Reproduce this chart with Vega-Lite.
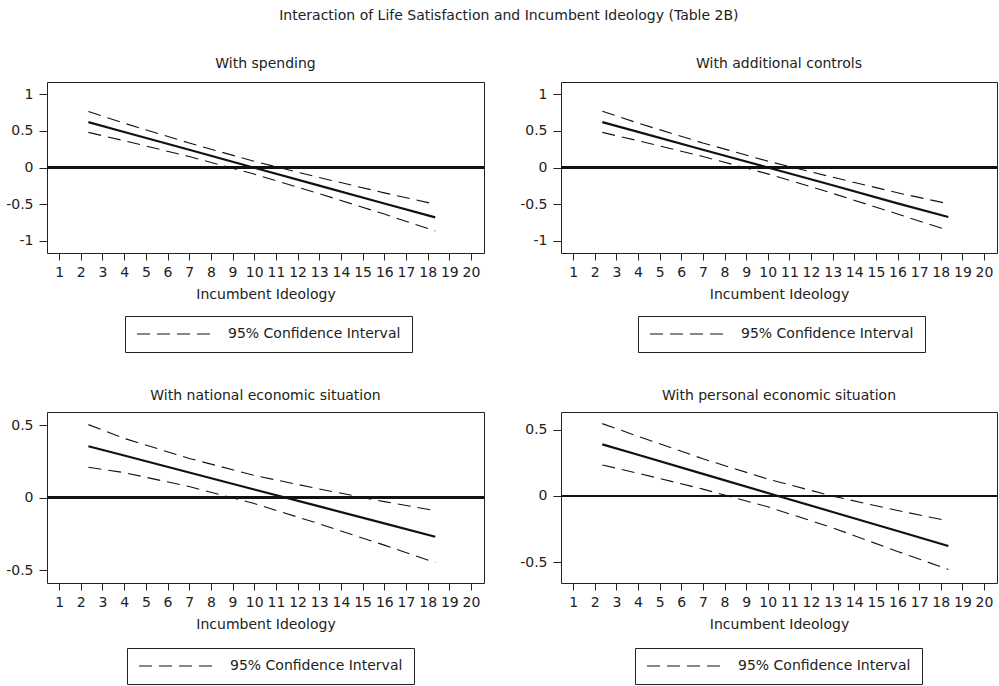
{
  "$schema": "https://vega.github.io/schema/vega-lite/v6.json",
  "padding": {"left": 5, "top": 8, "right": 0, "bottom": 0},
  "background": "white",
  "title": {"text": "Interaction of Life Satisfaction and Incumbent Ideology (Table 2B)", "anchor": "middle", "offset": 34, "dx": 7},
  "datasets": {
    "ci": [
      {"panel": "p1", "series": "mean", "x": 2.35, "y": 0.62},
      {"panel": "p1", "series": "mean", "x": 4, "y": 0.486},
      {"panel": "p1", "series": "mean", "x": 7, "y": 0.243},
      {"panel": "p1", "series": "mean", "x": 10, "y": -0.002},
      {"panel": "p1", "series": "mean", "x": 13, "y": -0.246},
      {"panel": "p1", "series": "mean", "x": 16, "y": -0.49},
      {"panel": "p1", "series": "mean", "x": 18.35, "y": -0.68},
      {"panel": "p1", "series": "upper", "x": 2.35, "y": 0.765},
      {"panel": "p1", "series": "upper", "x": 4, "y": 0.606},
      {"panel": "p1", "series": "upper", "x": 7, "y": 0.335},
      {"panel": "p1", "series": "upper", "x": 10, "y": 0.085},
      {"panel": "p1", "series": "upper", "x": 13, "y": -0.136},
      {"panel": "p1", "series": "upper", "x": 16, "y": -0.345},
      {"panel": "p1", "series": "upper", "x": 18.35, "y": -0.5},
      {"panel": "p1", "series": "lower", "x": 2.35, "y": 0.48},
      {"panel": "p1", "series": "lower", "x": 4, "y": 0.366},
      {"panel": "p1", "series": "lower", "x": 7, "y": 0.151},
      {"panel": "p1", "series": "lower", "x": 10, "y": -0.089},
      {"panel": "p1", "series": "lower", "x": 13, "y": -0.356},
      {"panel": "p1", "series": "lower", "x": 16, "y": -0.635},
      {"panel": "p1", "series": "lower", "x": 18.35, "y": -0.865},

      {"panel": "p2", "series": "mean", "x": 2.35, "y": 0.62},
      {"panel": "p2", "series": "mean", "x": 4, "y": 0.487},
      {"panel": "p2", "series": "mean", "x": 7, "y": 0.244},
      {"panel": "p2", "series": "mean", "x": 10, "y": 0.001},
      {"panel": "p2", "series": "mean", "x": 13, "y": -0.242},
      {"panel": "p2", "series": "mean", "x": 16, "y": -0.489},
      {"panel": "p2", "series": "mean", "x": 18.35, "y": -0.674},
      {"panel": "p2", "series": "upper", "x": 2.35, "y": 0.77},
      {"panel": "p2", "series": "upper", "x": 4, "y": 0.607},
      {"panel": "p2", "series": "upper", "x": 7, "y": 0.336},
      {"panel": "p2", "series": "upper", "x": 10, "y": 0.088},
      {"panel": "p2", "series": "upper", "x": 13, "y": -0.132},
      {"panel": "p2", "series": "upper", "x": 16, "y": -0.344},
      {"panel": "p2", "series": "upper", "x": 18.35, "y": -0.494},
      {"panel": "p2", "series": "lower", "x": 2.35, "y": 0.48},
      {"panel": "p2", "series": "lower", "x": 4, "y": 0.367},
      {"panel": "p2", "series": "lower", "x": 7, "y": 0.152},
      {"panel": "p2", "series": "lower", "x": 10, "y": -0.086},
      {"panel": "p2", "series": "lower", "x": 13, "y": -0.352},
      {"panel": "p2", "series": "lower", "x": 16, "y": -0.634},
      {"panel": "p2", "series": "lower", "x": 18.35, "y": -0.857},

      {"panel": "p3", "series": "mean", "x": 2.35, "y": 0.356},
      {"panel": "p3", "series": "mean", "x": 4, "y": 0.292},
      {"panel": "p3", "series": "mean", "x": 7, "y": 0.175},
      {"panel": "p3", "series": "mean", "x": 10, "y": 0.058},
      {"panel": "p3", "series": "mean", "x": 13, "y": -0.059},
      {"panel": "p3", "series": "mean", "x": 16, "y": -0.176},
      {"panel": "p3", "series": "mean", "x": 18.35, "y": -0.268},
      {"panel": "p3", "series": "upper", "x": 2.35, "y": 0.505},
      {"panel": "p3", "series": "upper", "x": 4, "y": 0.41},
      {"panel": "p3", "series": "upper", "x": 7, "y": 0.272},
      {"panel": "p3", "series": "upper", "x": 10, "y": 0.155},
      {"panel": "p3", "series": "upper", "x": 13, "y": 0.061},
      {"panel": "p3", "series": "upper", "x": 16, "y": -0.026},
      {"panel": "p3", "series": "upper", "x": 18.35, "y": -0.088},
      {"panel": "p3", "series": "lower", "x": 2.35, "y": 0.211},
      {"panel": "p3", "series": "lower", "x": 4, "y": 0.174},
      {"panel": "p3", "series": "lower", "x": 7, "y": 0.078},
      {"panel": "p3", "series": "lower", "x": 10, "y": -0.039},
      {"panel": "p3", "series": "lower", "x": 13, "y": -0.179},
      {"panel": "p3", "series": "lower", "x": 16, "y": -0.326},
      {"panel": "p3", "series": "lower", "x": 18.35, "y": -0.447},

      {"panel": "p4", "series": "mean", "x": 2.35, "y": 0.391},
      {"panel": "p4", "series": "mean", "x": 4, "y": 0.312},
      {"panel": "p4", "series": "mean", "x": 7, "y": 0.167},
      {"panel": "p4", "series": "mean", "x": 10, "y": 0.023},
      {"panel": "p4", "series": "mean", "x": 13, "y": -0.121},
      {"panel": "p4", "series": "mean", "x": 16, "y": -0.265},
      {"panel": "p4", "series": "mean", "x": 18.35, "y": -0.379},
      {"panel": "p4", "series": "upper", "x": 2.35, "y": 0.548},
      {"panel": "p4", "series": "upper", "x": 4, "y": 0.452},
      {"panel": "p4", "series": "upper", "x": 7, "y": 0.282},
      {"panel": "p4", "series": "upper", "x": 10, "y": 0.128},
      {"panel": "p4", "series": "upper", "x": 13, "y": -0.001},
      {"panel": "p4", "series": "upper", "x": 16, "y": -0.11},
      {"panel": "p4", "series": "upper", "x": 18.35, "y": -0.189},
      {"panel": "p4", "series": "lower", "x": 2.35, "y": 0.235},
      {"panel": "p4", "series": "lower", "x": 4, "y": 0.172},
      {"panel": "p4", "series": "lower", "x": 7, "y": 0.052},
      {"panel": "p4", "series": "lower", "x": 10, "y": -0.082},
      {"panel": "p4", "series": "lower", "x": 13, "y": -0.241},
      {"panel": "p4", "series": "lower", "x": 16, "y": -0.42},
      {"panel": "p4", "series": "lower", "x": 18.35, "y": -0.556}
    ]
  },
  "columns": 2,
  "spacing": {"row": 35, "column": 33},
  "resolve": {"scale": {"strokeDash": "independent", "x": "independent", "y": "independent"}, "legend": {"strokeDash": "independent"}},
  "concat": [
    {
      "title": {"text": "With spending", "offset": 11},
      "width": 437, "height": 171,
      "data": {"name": "ci"},
      "transform": [{"filter": "datum.panel == 'p1'"}],
      "layer": [
        {
          "transform": [{"filter": "datum.series != 'mean'"}],
          "mark": {"type": "line", "color": "#111", "strokeWidth": 1.1},
          "encoding": {
            "x": {"field": "x", "type": "quantitative", "scale": {"domain": [0.44, 20.6], "nice": false, "zero": false}, "axis": {"values": [1,2,3,4,5,6,7,8,9,10,11,12,13,14,15,16,17,18,19,20], "tickCount": 30, "labelExpr": "toString(datum.value)", "title": "Incumbent Ideology", "labelOverlap": false}},
            "y": {"field": "y", "type": "quantitative", "scale": {"domain": [-1.166, 1.168], "nice": false, "zero": false}, "axis": {"values": [-1, -0.5, 0, 0.5, 1], "tickCount": 10, "title": null, "labelExpr": "toString(datum.value)", "labelOverlap": false}},
            "detail": {"field": "series"},
            "strokeDash": {"datum": "95% Confidence Interval", "scale": {"range": [[13, 7]]}, "legend": {"orient": "none", "legendX": 78, "legendY": 234}}
          }
        },
        {
          "transform": [{"filter": "datum.series == 'mean'"}],
          "mark": {"type": "line", "color": "#111", "strokeWidth": 2.2},
          "encoding": {
            "x": {"field": "x", "type": "quantitative"},
            "y": {"field": "y", "type": "quantitative"}
          }
        },
        {
          "mark": {"type": "rule", "color": "#111", "strokeWidth": 2.2},
          "encoding": {"y": {"datum": 0, "type": "quantitative"}}
        }
      ]
    },
    {
      "title": {"text": "With additional controls", "offset": 11},
      "width": 436, "height": 171,
      "data": {"name": "ci"},
      "transform": [{"filter": "datum.panel == 'p2'"}],
      "layer": [
        {
          "transform": [{"filter": "datum.series != 'mean'"}],
          "mark": {"type": "line", "color": "#111", "strokeWidth": 1.1},
          "encoding": {
            "x": {"field": "x", "type": "quantitative", "scale": {"domain": [0.44, 20.6], "nice": false, "zero": false}, "axis": {"values": [1,2,3,4,5,6,7,8,9,10,11,12,13,14,15,16,17,18,19,20], "tickCount": 30, "labelExpr": "toString(datum.value)", "title": "Incumbent Ideology", "labelOverlap": false}},
            "y": {"field": "y", "type": "quantitative", "scale": {"domain": [-1.166, 1.168], "nice": false, "zero": false}, "axis": {"values": [-1, -0.5, 0, 0.5, 1], "tickCount": 10, "title": null, "labelExpr": "toString(datum.value)", "labelOverlap": false}},
            "detail": {"field": "series"},
            "strokeDash": {"datum": "95% Confidence Interval", "scale": {"range": [[13, 7]]}, "legend": {"orient": "none", "legendX": 77, "legendY": 234}}
          }
        },
        {
          "transform": [{"filter": "datum.series == 'mean'"}],
          "mark": {"type": "line", "color": "#111", "strokeWidth": 2.2},
          "encoding": {
            "x": {"field": "x", "type": "quantitative"},
            "y": {"field": "y", "type": "quantitative"}
          }
        },
        {
          "mark": {"type": "rule", "color": "#111", "strokeWidth": 2.2},
          "encoding": {"y": {"datum": 0, "type": "quantitative"}}
        }
      ]
    },
    {
      "title": {"text": "With national economic situation", "offset": 9},
      "width": 437, "height": 171,
      "data": {"name": "ci"},
      "transform": [{"filter": "datum.panel == 'p3'"}],
      "layer": [
        {
          "transform": [{"filter": "datum.series != 'mean'"}],
          "mark": {"type": "line", "color": "#111", "strokeWidth": 1.1},
          "encoding": {
            "x": {"field": "x", "type": "quantitative", "scale": {"domain": [0.44, 20.6], "nice": false, "zero": false}, "axis": {"values": [1,2,3,4,5,6,7,8,9,10,11,12,13,14,15,16,17,18,19,20], "tickCount": 30, "labelExpr": "toString(datum.value)", "title": "Incumbent Ideology", "labelOverlap": false}},
            "y": {"field": "y", "type": "quantitative", "scale": {"domain": [-0.587, 0.592], "nice": false, "zero": false}, "axis": {"values": [-0.5, 0, 0.5], "tickCount": 10, "title": null, "labelExpr": "toString(datum.value)", "labelOverlap": false}},
            "detail": {"field": "series"},
            "strokeDash": {"datum": "95% Confidence Interval", "scale": {"range": [[13, 7]]}, "legend": {"orient": "none", "legendX": 80, "legendY": 236}}
          }
        },
        {
          "transform": [{"filter": "datum.series == 'mean'"}],
          "mark": {"type": "line", "color": "#111", "strokeWidth": 2.2},
          "encoding": {
            "x": {"field": "x", "type": "quantitative"},
            "y": {"field": "y", "type": "quantitative"}
          }
        },
        {
          "mark": {"type": "rule", "color": "#111", "strokeWidth": 2.2},
          "encoding": {"y": {"datum": 0, "type": "quantitative"}}
        }
      ]
    },
    {
      "title": {"text": "With personal economic situation", "offset": 9},
      "width": 436, "height": 171,
      "data": {"name": "ci"},
      "transform": [{"filter": "datum.panel == 'p4'"}],
      "layer": [
        {
          "transform": [{"filter": "datum.series != 'mean'"}],
          "mark": {"type": "line", "color": "#111", "strokeWidth": 1.1},
          "encoding": {
            "x": {"field": "x", "type": "quantitative", "scale": {"domain": [0.44, 20.6], "nice": false, "zero": false}, "axis": {"values": [1,2,3,4,5,6,7,8,9,10,11,12,13,14,15,16,17,18,19,20], "tickCount": 30, "labelExpr": "toString(datum.value)", "title": "Incumbent Ideology", "labelOverlap": false}},
            "y": {"field": "y", "type": "quantitative", "scale": {"domain": [-0.659, 0.636], "nice": false, "zero": false}, "axis": {"values": [-0.5, 0, 0.5], "tickCount": 10, "title": null, "labelExpr": "toString(datum.value)", "labelOverlap": false}},
            "detail": {"field": "series"},
            "strokeDash": {"datum": "95% Confidence Interval", "scale": {"range": [[13, 7]]}, "legend": {"orient": "none", "legendX": 74, "legendY": 236}}
          }
        },
        {
          "transform": [{"filter": "datum.series == 'mean'"}],
          "mark": {"type": "line", "color": "#111", "strokeWidth": 2.2},
          "encoding": {
            "x": {"field": "x", "type": "quantitative"},
            "y": {"field": "y", "type": "quantitative"}
          }
        },
        {
          "mark": {"type": "rule", "color": "#111", "strokeWidth": 2.2},
          "encoding": {"y": {"datum": 0, "type": "quantitative"}}
        }
      ]
    }
  ],
  "config": {
    "font": "DejaVu Sans",
    "view": {"stroke": "#222", "strokeWidth": 1},
    "axis": {"grid": false, "domain": false, "tickColor": "#222", "tickWidth": 1, "labelColor": "#222", "labelFont": "DejaVu Sans", "labelFontSize": 14, "titleFont": "DejaVu Sans", "titleFontSize": 14, "titleFontWeight": "normal", "titleColor": "#222"},
    "axisX": {"tickSize": 7, "labelPadding": 5, "titlePadding": 8, "labelFlush": false, "labelOverlap": false},
    "axisY": {"tickSize": 8, "labelPadding": 6, "labelOverlap": false},
    "title": {"font": "DejaVu Sans", "fontSize": 14, "fontWeight": "normal", "color": "#222"},
    "legend": {"strokeColor": "#222", "padding": 11, "labelFont": "DejaVu Sans", "labelFontSize": 14, "labelColor": "#222", "labelLimit": 400, "symbolType": "stroke", "symbolSize": 5476, "symbolStrokeWidth": 1.1, "symbolStrokeColor": "#111", "labelOffset": 16, "clipHeight": 14, "title": null}
  }
}
